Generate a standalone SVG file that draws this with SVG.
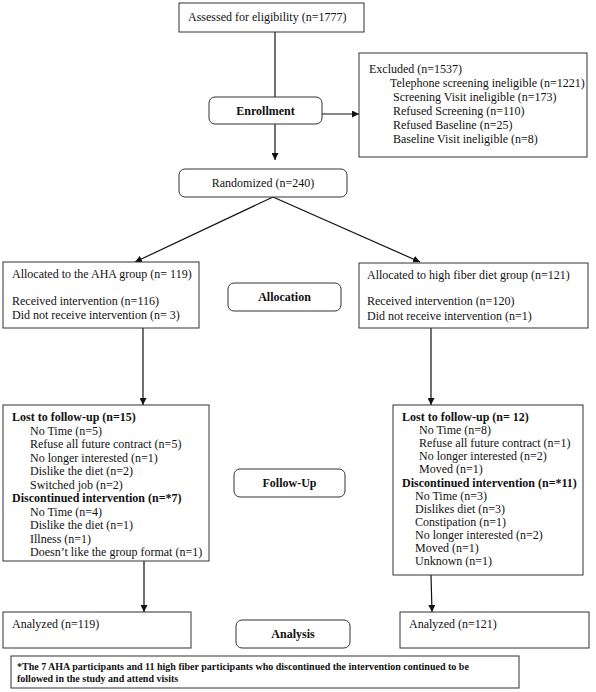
<svg xmlns="http://www.w3.org/2000/svg" width="596" height="692" viewBox="0 0 596 692">
<defs>
<marker id="ah" viewBox="0 0 10 10" refX="10" refY="5" markerWidth="7" markerHeight="7" markerUnits="userSpaceOnUse" orient="auto">
<path d="M0,0 L10,5 L0,10 z" fill="#111"/>
</marker>
<style>
.box{fill:#fff;stroke:#333;stroke-width:1}
.t{font-family:"Liberation Serif","Times New Roman",serif;font-size:12px;fill:#111}
.b{font-family:"Liberation Serif","Times New Roman",serif;font-size:12px;font-weight:bold;fill:#111}
.f{font-family:"Liberation Serif","Times New Roman",serif;font-size:10px;font-weight:bold;fill:#111}
.c{text-anchor:middle}
.ln{stroke:#111;stroke-width:1.2;fill:none}
</style>
</defs>
<rect width="596" height="692" fill="#fff"/>

<g id="connectors">
<line class="ln" x1="275" y1="32" x2="275" y2="97"/>
<line class="ln" x1="322" y1="114" x2="359" y2="114" marker-end="url(#ah)"/>
<line class="ln" x1="275" y1="124" x2="275" y2="160" marker-end="url(#ah)"/>
<line class="ln" x1="273" y1="197" x2="135" y2="262" marker-end="url(#ah)"/>
<line class="ln" x1="273" y1="197" x2="420" y2="262" marker-end="url(#ah)"/>
<line class="ln" x1="143" y1="328" x2="143" y2="405" marker-end="url(#ah)"/>
<line class="ln" x1="431" y1="328" x2="431" y2="405" marker-end="url(#ah)"/>
<line class="ln" x1="144" y1="561" x2="144" y2="612" marker-end="url(#ah)"/>
<line class="ln" x1="431" y1="575" x2="432" y2="612" marker-end="url(#ah)"/>
</g>

<g id="assessed">
<rect class="box" x="179" y="3" width="185" height="29"/>
<text class="t" x="188" y="21">Assessed for eligibility (n=1777)</text>
</g>

<g id="enrollment">
<rect class="box" x="209" y="97" width="113" height="27" rx="6"/>
<text class="b c" x="265.5" y="115">Enrollment</text>
</g>

<g id="excluded">
<rect class="box" x="359" y="53" width="228" height="104"/>
<text class="t" x="369" y="73">Excluded (n=1537)</text>
<text class="t" x="390" y="87">Telephone screening ineligible (n=1221)</text>
<text class="t" x="393" y="101">Screening Visit ineligible (n=173)</text>
<text class="t" x="393" y="115">Refused Screening (n=110)</text>
<text class="t" x="393" y="129">Refused Baseline (n=25)</text>
<text class="t" x="393" y="143">Baseline Visit ineligible (n=8)</text>
</g>

<g id="randomized">
<rect class="box" x="179" y="169" width="168" height="28" rx="6"/>
<text class="t c" x="263" y="187">Randomized (n=240)</text>
</g>

<g id="alloc-aha">
<rect class="box" x="3" y="262" width="196" height="66"/>
<text class="t" x="12" y="278">Allocated to the AHA group (n= 119)</text>
<text class="t" x="12" y="305">Received intervention (n=116)</text>
<text class="t" x="12" y="319">Did not receive intervention (n= 3)</text>
</g>

<g id="allocation">
<rect class="box" x="228" y="283" width="113" height="28" rx="6"/>
<text class="b c" x="284.5" y="301">Allocation</text>
</g>

<g id="alloc-fiber">
<rect class="box" x="359" y="263" width="229" height="65"/>
<text class="t" x="367" y="279">Allocated to high fiber diet group (n=121)</text>
<text class="t" x="367" y="305">Received intervention (n=120)</text>
<text class="t" x="367" y="320">Did not receive intervention (n=1)</text>
</g>

<g id="followup-aha">
<rect class="box" x="3" y="405" width="206" height="156"/>
<text class="b" x="12" y="421">Lost to follow-up (n=15)</text>
<text class="t" x="30" y="434.5">No Time (n=5)</text>
<text class="t" x="30" y="448">Refuse all future contract (n=5)</text>
<text class="t" x="30" y="461.5">No longer interested (n=1)</text>
<text class="t" x="30" y="475">Dislike the diet (n=2)</text>
<text class="t" x="30" y="488.5">Switched job (n=2)</text>
<text class="b" x="12" y="502">Discontinued intervention (n=*7)</text>
<text class="t" x="30" y="515.5">No Time (n=4)</text>
<text class="t" x="30" y="529">Dislike the diet (n=1)</text>
<text class="t" x="30" y="542.5">Illness (n=1)</text>
<text class="t" x="30" y="556">Doesn’t like the group format (n=1)</text>
</g>

<g id="followup">
<rect class="box" x="234" y="469" width="111" height="28" rx="6"/>
<text class="b c" x="289.5" y="487">Follow-Up</text>
</g>

<g id="followup-fiber">
<rect class="box" x="393" y="405" width="190" height="170"/>
<text class="b" x="402" y="421">Lost to follow-up (n= 12)</text>
<text class="t" x="419" y="434">No Time (n=8)</text>
<text class="t" x="419" y="447">Refuse all future contract (n=1)</text>
<text class="t" x="419" y="460">No longer interested (n=2)</text>
<text class="t" x="419" y="473">Moved (n=1)</text>
<text class="b" x="402" y="486.5">Discontinued intervention (n=*11)</text>
<text class="t" x="415" y="499.5">No Time (n=3)</text>
<text class="t" x="415" y="512.5">Dislikes diet (n=3)</text>
<text class="t" x="415" y="525.5">Constipation (n=1)</text>
<text class="t" x="415" y="538.5">No longer interested (n=2)</text>
<text class="t" x="415" y="552">Moved (n=1)</text>
<text class="t" x="415" y="565">Unknown (n=1)</text>
</g>

<g id="analyzed-aha">
<rect class="box" x="3" y="612" width="188" height="36"/>
<text class="t" x="12" y="628">Analyzed (n=119)</text>
</g>

<g id="analysis">
<rect class="box" x="236" y="620" width="114" height="28" rx="6"/>
<text class="b c" x="293" y="638">Analysis</text>
</g>

<g id="analyzed-fiber">
<rect class="box" x="400" y="612" width="189" height="36"/>
<text class="t" x="409" y="628">Analyzed (n=121)</text>
</g>

<g id="footnote">
<rect class="box" x="11" y="656" width="508" height="32"/>
<text class="f" x="17" y="670">*The 7 AHA participants and 11 high fiber participants who discontinued the intervention continued to be</text>
<text class="f" x="17" y="682">followed in the study and attend visits</text>
</g>
</svg>
